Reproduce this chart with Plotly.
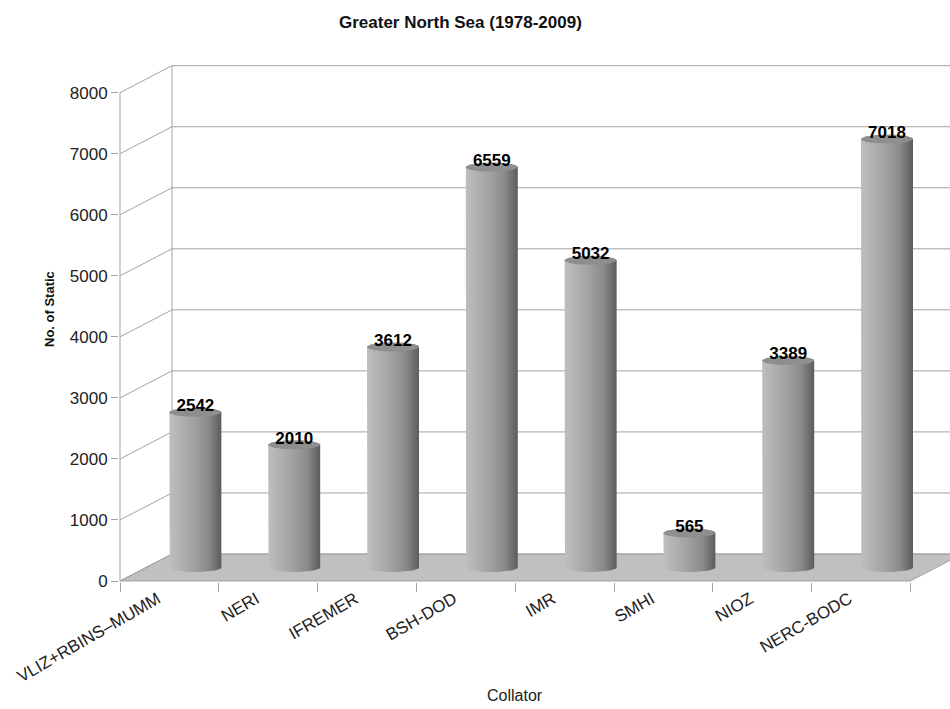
import numpy as np
import plotly.graph_objects as go

# ---- data ----
categories = ["VLIZ+RBINS–MUMM", "NERI", "IFREMER", "BSH-DOD", "IMR", "SMHI", "NIOZ", "NERC-BODC"]
stations = [2542, 2010, 3612, 6559, 5032, 565, 3389, 7018]
y_ticks = [0, 1000, 2000, 3000, 4000, 5000, 6000, 7000, 8000]

# ---- geometry (pixels -> axis units) ----
W, H = 950, 709
ML, MR, MT, MB = 119, 0, 55, 127
PX_X = 98.8            # px per category
PX_Y = 61.04 / 1000    # px per unit value
plot_w = W - ML - MR
plot_h = H - MT - MB
x0 = -0.5 - 1 / PX_X
x1 = x0 + plot_w / PX_X
y0 = -1 / PX_Y
y1 = y0 + plot_h / PX_Y

DX = 52 / PX_X         # depth offset in x units
DY = 27 / PX_Y         # depth offset in y units
HW = 26 / PX_X         # cylinder half width
EH = 4.5 / PX_Y        # ellipse half height

grid_col = "#a3a3a3"
shapes = []
# floor
shapes.append(dict(type="path",
                   path=f"M {-0.5},{0} L {len(categories)-0.5},{0} L {len(categories)-0.5+DX},{DY} L {-0.5+DX},{DY} Z",
                   xref="x", yref="y", fillcolor="#c0c0c0", line=dict(color=grid_col, width=1), layer="below"))
# back wall grid lines and side wall diagonals
for v in y_ticks:
    shapes.append(dict(type="line", xref="x", yref="y", x0=-0.5 + DX, x1=x1 + 1, y0=v + DY, y1=v + DY,
                       line=dict(color=grid_col, width=1), layer="below"))
    shapes.append(dict(type="line", xref="x", yref="y", x0=-0.5, x1=-0.5 + DX, y0=v, y1=v + DY,
                       line=dict(color=grid_col, width=1), layer="below"))
shapes.append(dict(type="line", xref="x", yref="y", x0=-0.5 + DX, x1=-0.5 + DX, y0=DY, y1=y_ticks[-1] + DY,
                   line=dict(color=grid_col, width=1), layer="below"))
# front value axis line
shapes.append(dict(type="line", xref="x", yref="y", x0=-0.5, x1=-0.5, y0=0, y1=y_ticks[-1],
                   line=dict(color=grid_col, width=1), layer="below"))

fig = go.Figure()

grad = [[0, "#bebebe"], [0.45, "#a3a3a3"], [0.75, "#8a8a8a"], [1, "#5c5c5c"]]
t_low = np.linspace(np.pi, 2 * np.pi, 40)
t_up = np.linspace(0, np.pi, 40)
t_full = np.linspace(0, 2 * np.pi, 80)
base = DY / 2
for i, v in enumerate(stations):
    cx = i + DX / 2
    top = v + base
    bx = np.concatenate([[cx - HW, cx - HW], cx + HW * np.cos(t_low), [cx + HW], cx + HW * np.cos(t_up)])
    by = np.concatenate([[top, base], base + EH * np.sin(t_low), [top], top + EH * np.sin(t_up)])
    fig.add_trace(go.Scatter(x=bx, y=by, mode="lines", fill="toself", line=dict(width=0),
                             fillgradient=dict(type="horizontal", colorscale=grad),
                             hoverinfo="skip", showlegend=False))
    fig.add_trace(go.Scatter(x=cx + HW * np.cos(t_full), y=top + EH * np.sin(t_full), mode="lines",
                             fill="toself", fillcolor="#8e8e8e", line=dict(width=0),
                             hoverinfo="skip", showlegend=False))

fig.add_trace(go.Scatter(
    x=[i + DX / 2 for i in range(len(stations))],
    y=[v + base + 90 for v in stations],
    mode="text", text=[str(v) for v in stations],
    textfont=dict(family="Liberation Sans", size=17, color="#000000", weight="bold"),
    textposition="middle center", cliponaxis=False, hoverinfo="skip", showlegend=False))

fig.update_layout(
    width=W, height=H,
    margin=dict(l=ML, r=MR, t=MT, b=MB),
    paper_bgcolor="white", plot_bgcolor="white",
    font=dict(family="Liberation Sans", color="#222222"),
    shapes=shapes,
    xaxis=dict(range=[x0, x1], showgrid=False, zeroline=False, showline=False,
               tickmode="array", tickvals=[i - 0.12 for i in range(len(categories))], ticktext=categories,
               ticks="", tickangle=-30, tickfont=dict(size=17, color="#222222"), ticklabelstandoff=3,
               minor=dict(tickmode="array", tickvals=[i - 0.5 for i in range(len(categories) + 1)],
                          ticks="outside", ticklen=9, tickcolor=grid_col, tickwidth=1)),
    yaxis=dict(range=[y0, y1], showgrid=False, zeroline=False, showline=False,
               tickmode="array", tickvals=y_ticks, ticktext=[str(t) for t in y_ticks],
               ticks="outside", ticklen=7, tickcolor=grid_col, tickfont=dict(size=17, color="#222222")),
    annotations=[
        dict(text="<b>Greater North Sea (1978-2009)</b>", xref="paper", yref="paper",
             x=(460 - ML) / plot_w, y=(H - MB - 22) / plot_h, showarrow=False,
             font=dict(size=17, color="#111111"), xanchor="center", yanchor="middle"),
        dict(text="Collator", xref="paper", yref="paper",
             x=(515 - ML) / plot_w, y=(H - MB - 695) / plot_h, showarrow=False,
             font=dict(size=16, color="#222222"), xanchor="center", yanchor="middle"),
        dict(text="<b>No. of Static</b>", xref="paper", yref="paper", textangle=-90,
             x=(49 - ML) / plot_w, y=(H - MB - 309) / plot_h, showarrow=False,
             font=dict(size=13, color="#111111"), xanchor="center", yanchor="middle"),
    ],
)

fig.write_html("out.html")
